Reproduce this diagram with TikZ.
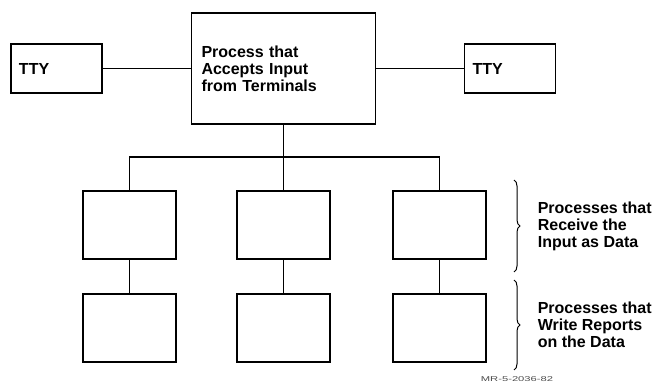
\documentclass[tikz,border=0pt]{standalone}
\usepackage{fontspec}
\setmainfont{Liberation Sans}
\usetikzlibrary{positioning,decorations.pathreplacing}

\begin{document}
\begin{tikzpicture}[x=1pt, y=-1pt, line width=1.6pt,
	   font=\fontsize{16}{17}\selectfont\bfseries,
	   b/.style={draw, minimum width=93pt, minimum height=68pt, inner sep=0pt},
	   tty/.style={draw, minimum width=91pt, minimum height=49pt, text width=75pt, inner xsep=8pt, align=left},
	   n/.style={align=left, anchor=west, inner sep=0pt},
	   br/.style={decorate, decoration={brace, amplitude=6pt}, line width=1pt}]
	  \useasboundingbox (0,0) rectangle (657,385);
	  \node[draw, minimum width=184pt, minimum height=111pt, text width=164pt, inner xsep=10pt, align=left] (main) at (283.5,68.5) {Process that\\Accepts Input\\from Terminals};
	  \node[tty] (ttyL) at (56.5,68.5) {TTY};
	  \node[tty] (ttyR) at (510,68.5) {TTY};
	  \draw (ttyL) -- (main); \draw (main) -- (ttyR);
	  % receive row and write row
	  \foreach \x [count=\i] in {129.5,283.5,439.5} {
	    \node[b] (r\i) at (\x,225) {};
	    \node[b] (w\i) at (\x,328) {};
	    \draw (r\i) -- (w\i);
	  }
	  \coordinate (fork) at (283.5,157);
	  \draw (main) -- (fork);
	  \draw (r1) |- (fork) -| (r3);
	  \draw (fork) -- (r2);
	  \draw[br] (514,180) -- (514,272);
	  \draw[br] (514,280) -- (514,370);
	  \node[n] (recv) at (537,226) {Processes that\\Receive the\\Input as Data};
	  \node[n] (writ) at (537,325) {Processes that\\Write Reports\\on the Data};
	  \node[font=\fontsize{7}{8}\selectfont, xscale=1.6, text=black!70] (tag) at (517,379.5) {MR-5-2036-82};
	\end{tikzpicture}
\end{document}
